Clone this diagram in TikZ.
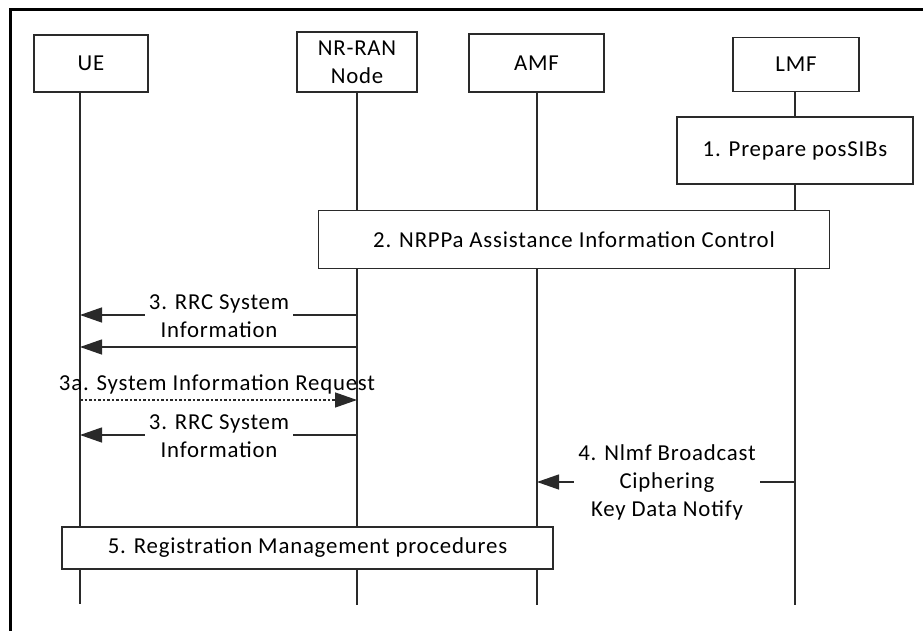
\documentclass[tikz,border=0pt]{standalone}
\usepackage{fontspec}
\setmainfont{Carlito}[LetterSpace=3.5]
\usetikzlibrary{arrows.meta}
\definecolor{ln}{HTML}{2A2A2A}
\tikzset{
  ent/.style={draw=ln, line width=1.4pt, fill=white, inner sep=0pt, align=center},
  life/.style={draw=ln, line width=1.3pt},
  msg/.style={draw=ln, line width=1.3pt, -{Triangle[length=22pt,width=15pt]}},
  lbl/.style={fill=white, inner xsep=4pt, inner ysep=1pt, align=center},
  txt/.style={font=\fontsize{22.8}{28}\selectfont}
}
\begin{document}
\begin{tikzpicture}[x=1pt,y=-1pt,txt]
\useasboundingbox (0,0) rectangle (923,631);
% frame (top and left edges)
\draw[line width=3pt, black] (923,9.5) -- (10,9.5) -- (10,631);
% entity boxes
\node[ent, minimum width=114pt, minimum height=57pt] (ue) at (91,63.5) {UE};
\node[ent, minimum width=120pt, minimum height=60pt] (ran) at (357,62) {NR-RAN\\Node};
\node[ent, minimum width=135pt, minimum height=58pt] (amf) at (536.5,63) {AMF};
\node[ent, minimum width=126pt, minimum height=54pt] (lmf) at (796,64.5) {LMF};
% lifeline end points
\coordinate (ueE) at (80,604);
\coordinate (ranE) at (357,605);
\coordinate (amfE) at (537,605);
\coordinate (lmfE) at (795,605);
\draw[life] (ue.south -| ueE) -- (ueE);
\draw[life] (ran.south) -- (ranE);
\draw[life] (amf.south -| amfE) -- (amfE);
\draw[life] (lmf.south -| lmfE) -- (lmfE);
% step boxes
\node[ent, minimum width=236pt, minimum height=67pt] (s1) at (795,150.5) {1. Prepare posSIBs};
\node[ent, minimum width=511pt, minimum height=58pt] (s2) at (574,239.5) {2. NRPPa Assistance Information Control};
\node[ent, minimum width=491pt, minimum height=42pt] (s5) at (307.5,548) {5. Registration Management procedures};
% messages
\coordinate (m1s) at (357,315); \coordinate (m1e) at (80,315);
\coordinate (m2s) at (357,347); \coordinate (m2e) at (80,347);
\coordinate (m3s) at (80,400);  \coordinate (m3e) at (357,400);
\coordinate (m4s) at (357,435); \coordinate (m4e) at (80,435);
\coordinate (m5s) at (795,482); \coordinate (m5e) at (537,482);
\draw[msg] (m1s) -- (m1e);
\draw[msg] (m2s) -- (m2e);
\draw[msg, dash pattern=on 2.5pt off 2pt] (m3s) -- (m3e);
\draw[msg] (m4s) -- (m4e);
\draw[msg] (m5s) -- (m5e);
\node[lbl] (l1) at (219,316) {3. RRC System\\Information};
\node[anchor=base, inner sep=0pt] (l3) at (217,390) {3a. System Information Request};
\node[lbl] (l4) at (219,436) {3. RRC System\\Information};
\node[lbl] (l5) at (667,482) {4. Nlmf Broadcast\\Ciphering\\Key Data Notify};
\end{tikzpicture}
\end{document}
